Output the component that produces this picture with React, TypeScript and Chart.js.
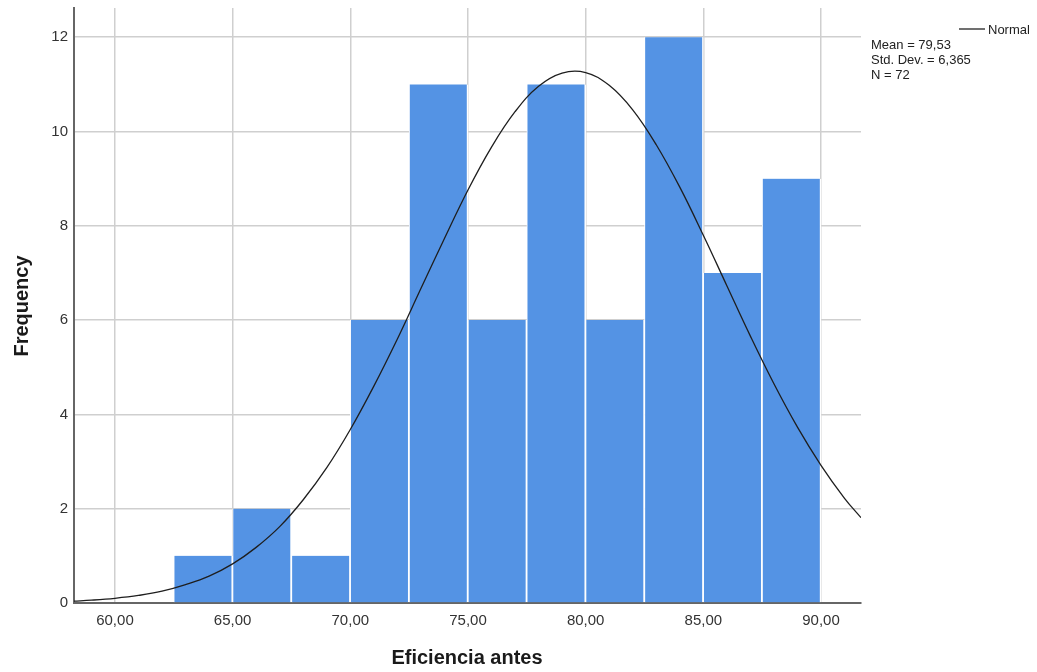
import React, { useEffect, useRef } from "react";
import { Chart, registerables } from "chart.js";

Chart.register(...registerables);

// Histogram bins (centre of each 2.5-wide bin) and frequencies
const binCenters = [63.75, 66.25, 68.75, 71.25, 73.75, 76.25, 78.75, 81.25, 83.75, 86.25, 88.75];
const frequencies = [1, 2, 1, 6, 11, 6, 11, 6, 12, 7, 9];

// Normal curve points
const curveX = [58.26, 59, 60, 61, 62, 63, 64, 65, 66, 67, 68, 69, 70, 71, 72, 73, 74, 75, 76, 77, 78, 79, 80, 81, 82, 83, 84, 85, 86, 87, 88, 89, 90, 91, 91.7];
const curveY = [0.04, 0.06, 0.10, 0.16, 0.25, 0.39, 0.57, 0.83, 1.18, 1.62, 2.19, 2.87, 3.68, 4.60, 5.60, 6.67, 7.73, 8.76, 9.67, 10.42, 10.96, 11.24, 11.25, 10.98, 10.46, 9.72, 8.82, 7.80, 6.73, 5.66, 4.65, 3.73, 2.92, 2.22, 1.81];

const legendLines = ["Mean = 79,53", "Std. Dev. = 6,365", "N = 72"];
const xTitle = "Eficiencia antes";
const yTitle = "Frequency";

const FONT = "Arial, 'Liberation Sans', sans-serif";

const textPlugin = {
  id: "textPlugin",
  afterDraw(chart: any) {
    const ctx = chart.ctx;
    ctx.save();
    ctx.fillStyle = "#1a1a1a";
    ctx.font = `bold 20px ${FONT}`;
    ctx.textAlign = "center";
    ctx.textBaseline = "middle";
    ctx.fillText(xTitle, 467, 658);
    ctx.save();
    ctx.translate(22, 306);
    ctx.rotate(-Math.PI / 2);
    ctx.fillText(yTitle, 0, 0);
    ctx.restore();
    // legend
    ctx.strokeStyle = "#222";
    ctx.lineWidth = 1.3;
    ctx.beginPath();
    ctx.moveTo(959, 29);
    ctx.lineTo(985, 29);
    ctx.stroke();
    ctx.font = `13px ${FONT}`;
    ctx.textAlign = "left";
    ctx.fillStyle = "#222";
    ctx.fillText("Normal", 988, 30);
    legendLines.forEach((t, i) => ctx.fillText(t, 871, 45 + i * 15));
    ctx.restore();
  },
};

export default function App() {
  const ref = useRef<HTMLCanvasElement>(null);
  useEffect(() => {
    const chart = new Chart(ref.current!, {
      type: "bar",
      data: {
        datasets: [
          {
            type: "line",
            data: curveX.map((x, i) => ({ x, y: curveY[i] })),
            borderColor: "#1e1e1e",
            borderWidth: 1.3,
            pointRadius: 0,
            tension: 0.4,
            order: 0,
          } as any,
          {
            type: "bar",
            data: binCenters.map((x, i) => ({ x, y: frequencies[i] })),
            backgroundColor: "#5493e4",
            borderColor: "#ffffff",
            borderWidth: { left: 1, right: 1.5, top: 0, bottom: 0 },
            borderSkipped: false,
            barPercentage: 1,
            categoryPercentage: 1,
            order: 1,
          } as any,
        ],
      },
      options: {
        animation: false,
        responsive: false,
        maintainAspectRatio: false,
        layout: { padding: { top: 8, right: 176, left: 0, bottom: 0 } },
        plugins: { legend: { display: false }, tooltip: { enabled: false } },
        scales: {
          x: {
            type: "linear",
            min: 58.26,
            max: 91.7,
            offset: false,
            afterFit: (s: any) => { s.height = 69; s.paddingLeft = 0; s.paddingRight = 0; },
            ticks: {
              stepSize: 5,
              includeBounds: false,
              padding: 9,
              color: "#333",
              font: { family: FONT, size: 15 },
              callback: (v: any) => Number(v).toFixed(2).replace(".", ","),
            },
            grid: { color: "#cfcfcf", lineWidth: 1.5, drawTicks: false, offset: false },
            border: { color: "#666", width: 2 },
          },
          y: {
            type: "linear",
            min: 0,
            max: 12.62,
            afterFit: (s: any) => { s.width = 74; s.paddingTop = 0; s.paddingBottom = 0; },
            ticks: {
              stepSize: 2,
              includeBounds: false,
              padding: 6,
              color: "#333",
              font: { family: FONT, size: 15 },
            },
            grid: { color: "#cfcfcf", lineWidth: 1.5, drawTicks: false },
            border: { color: "#666", width: 2 },
          },
        },
      },
      plugins: [textPlugin],
    });
    return () => chart.destroy();
  }, []);
  return (
    <div style={{ position: "fixed", left: 0, top: 0, width: 1037, height: 672, background: "#fff" }}>
      <canvas ref={ref} width={1037} height={672} style={{ width: 1037, height: 672 }} />
    </div>
  );
}
